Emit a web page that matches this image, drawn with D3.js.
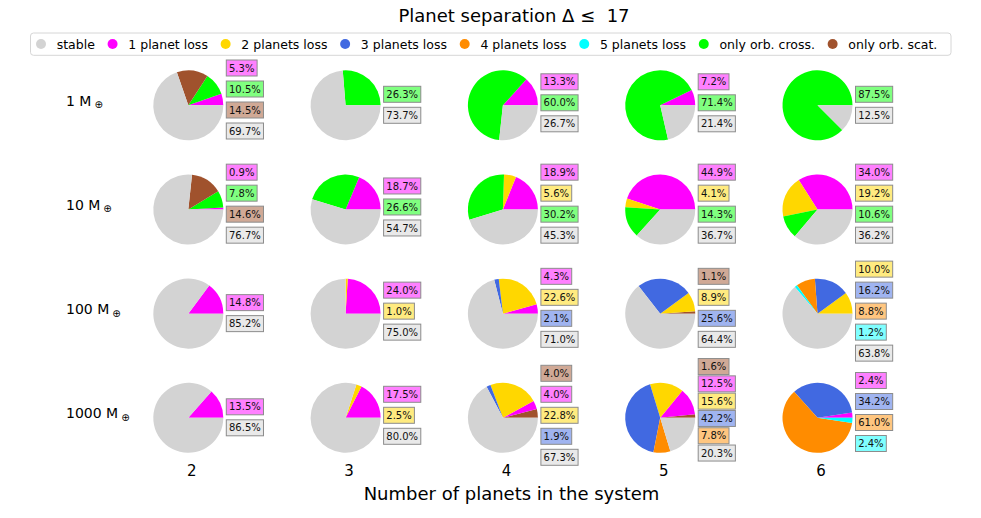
<!DOCTYPE html>
<html>
<head>
<meta charset="utf-8">
<script src="https://cdn.jsdelivr.net/npm/d3@7"></script>
<style>
  body { margin: 0; background: #fff; }
  text { font-family: "DejaVu Sans", sans-serif; }
</style>
</head>
<body>
<svg id="chart" width="981" height="518"></svg>
<script>
// categories / legend
const categories = ['stable', 'l1', 'l2', 'l3', 'l4', 'l5', 'cross', 'scat'];
const categoryNames = ['stable', '1 planet loss', '2 planets loss', '3 planets loss',
  '4 planets loss', '5 planets loss', 'only orb. cross.', 'only orb. scat.'];
const categoryColors = ['#d3d3d3', '#ff00ff', '#ffd700', '#4169e1',
  '#ff8c00', '#00ffff', '#00ff00', '#a0522d'];

const planetCounts = ['2', '3', '4', '5', '6'];
const massLabels = ['1', '10', '100', '1000'];

// one list per mass row, one pie per planet count, wedges in drawing order (%)
const mass1 = [
  [['l1', 5.3], ['cross', 10.5], ['scat', 14.5], ['stable', 69.7]],
  [['cross', 26.3], ['stable', 73.7]],
  [['l1', 13.3], ['cross', 60.0], ['stable', 26.7]],
  [['l1', 7.2], ['cross', 71.4], ['stable', 21.4]],
  [['cross', 87.5], ['stable', 12.5]]
];
const mass10 = [
  [['l1', 0.9], ['cross', 7.8], ['scat', 14.6], ['stable', 76.7]],
  [['l1', 18.7], ['cross', 26.6], ['stable', 54.7]],
  [['l1', 18.9], ['l2', 5.6], ['cross', 30.2], ['stable', 45.3]],
  [['l1', 44.9], ['l2', 4.1], ['cross', 14.3], ['stable', 36.7]],
  [['l1', 34.0], ['l2', 19.2], ['cross', 10.6], ['stable', 36.2]]
];
const mass100 = [
  [['l1', 14.8], ['stable', 85.2]],
  [['l1', 24.0], ['l2', 1.0], ['stable', 75.0]],
  [['l1', 4.3], ['l2', 22.6], ['l3', 2.1], ['stable', 71.0]],
  [['scat', 1.1], ['l2', 8.9], ['l3', 25.6], ['stable', 64.4]],
  [['l2', 10.0], ['l3', 16.2], ['l4', 8.8], ['l5', 1.2], ['stable', 63.8]]
];
const mass1000 = [
  [['l1', 13.5], ['stable', 86.5]],
  [['l1', 17.5], ['l2', 2.5], ['stable', 80.0]],
  [['scat', 4.0], ['l1', 4.0], ['l2', 22.8], ['l3', 1.9], ['stable', 67.3]],
  [['scat', 1.6], ['l1', 12.5], ['l2', 15.6], ['l3', 42.2], ['l4', 7.8], ['stable', 20.3]],
  [['l1', 2.4], ['l3', 34.2], ['l4', 61.0], ['l5', 2.4]]
];
const rows = [mass1, mass10, mass100, mass1000];

const svg = d3.select('#chart');
const color = d3.scaleOrdinal().domain(categories).range(categoryColors);
const x = d3.scalePoint().domain(planetCounts).range([188.3, 817.5]);
const y = d3.scalePoint().domain(massLabels).range([105.3, 417.8]);
const radius = 35;

// matplotlib style: start at 3 o'clock, counterclockwise
const pie = d3.pie().sort(null).value(d => d[1])
  .startAngle(Math.PI / 2).endAngle(Math.PI / 2 - 2 * Math.PI);
const arc = d3.arc().innerRadius(0).outerRadius(radius);

// label boxes shift a little depending on how many there are
const midOffset = { 2: -0.5, 3: -2.5, 4: -5.8, 5: -2.5, 6: -8 };

function lighten(c) {
  const rgb = d3.rgb(c);
  return d3.rgb((rgb.r + 255) / 2, (rgb.g + 255) / 2, (rgb.b + 255) / 2).formatHex();
}

// title
svg.append('text')
  .attr('x', 514).attr('y', 22)
  .attr('text-anchor', 'middle')
  .attr('font-size', 18)
  .style('white-space', 'pre')
  .text('Planet separation Δ ≤  17');

// legend
const legend = svg.append('g');
legend.append('rect')
  .attr('x', 30.5).attr('y', 33).attr('width', 920.5).attr('height', 22.3)
  .attr('rx', 3).attr('fill', '#fff').attr('stroke', '#d6d6d6');
let lx = 41;
categories.forEach((c, i) => {
  legend.append('circle')
    .attr('cx', lx).attr('cy', 44).attr('r', 5)
    .attr('fill', color(c));
  const t = legend.append('text')
    .attr('x', lx + 15.7).attr('y', 48.5)
    .attr('font-size', 12.5)
    .text(categoryNames[i]);
  lx += 15.7 + t.node().getComputedTextLength() + 17.7;
});

// row labels
massLabels.forEach(m => {
  const t = svg.append('text')
    .attr('x', 66).attr('y', y(m) + 0.5)
    .attr('font-size', 14);
  t.append('tspan').text(m + ' M');
  t.append('tspan').attr('dx', 3).attr('dy', 2.5).attr('font-size', 10).text('⊕');
});

// pies
rows.forEach((row, ri) => {
  const cy = y(massLabels[ri]);
  row.forEach((slices, ci) => {
    const cx = x(planetCounts[ci]);
    const g = svg.append('g').attr('transform', `translate(${cx},${cy})`);
    g.selectAll('path')
      .data(pie(slices))
      .join('path')
      .attr('d', arc)
      .attr('fill', d => color(d.data[0]));

    const n = slices.length;
    const pitch = n >= 6 ? 17.3 : 21;
    const mid = midOffset[n];
    slices.forEach((s, i) => {
      const by = mid + (i - (n - 1) / 2) * pitch;
      const box = g.append('rect')
        .attr('x', 38).attr('y', by - 8).attr('height', 16)
        .attr('fill', lighten(color(s[0])))
        .attr('stroke', '#8c8c8c').attr('stroke-width', 1);
      const t = g.append('text')
        .attr('x', 40.7).attr('y', by + 3.6)
        .attr('font-size', 10).attr('fill', '#111')
        .text(s[1].toFixed(1) + '%');
      box.attr('width', t.node().getComputedTextLength() + 5.4);
    });
  });
});

// x tick labels and axis title
svg.append('g')
  .selectAll('text')
  .data(planetCounts)
  .join('text')
  .attr('x', d => x(d) + 3.5)
  .attr('y', 476)
  .attr('text-anchor', 'middle')
  .attr('font-size', 15)
  .text(d => d);

svg.append('text')
  .attr('x', 511.5).attr('y', 500)
  .attr('text-anchor', 'middle')
  .attr('font-size', 18)
  .text('Number of planets in the system');
</script>
</body>
</html>
